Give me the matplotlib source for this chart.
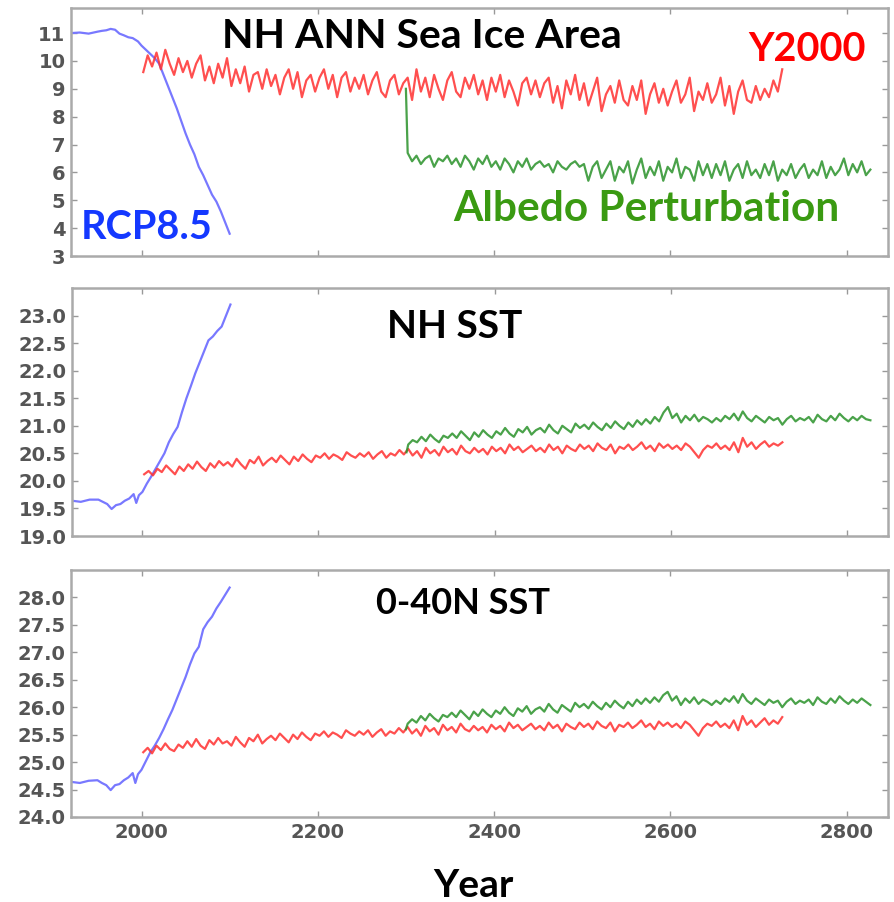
import numpy as np
import matplotlib
matplotlib.use("Agg")
import matplotlib.pyplot as plt

# ---- data ----
blue_years = [1920, 1930, 1940, 1950, 1955, 1960, 1965, 1970, 1975, 1980, 1985, 1990, 1993, 1996,
              2000, 2005, 2010, 2015, 2020, 2025, 2030, 2035, 2040, 2045, 2050, 2055, 2060, 2065,
              2070, 2075, 2080, 2085, 2090, 2095, 2100]
ice_rcp = [11.0, 11.02, 10.98, 11.05, 11.08, 11.1, 11.15, 11.12, 10.98, 10.92, 10.85, 10.82, 10.76, 10.7,
           10.55, 10.4, 10.25, 10.1, 9.9, 9.5, 9.1, 8.7, 8.3, 7.85, 7.4, 7.0, 6.65, 6.2,
           5.9, 5.55, 5.2, 4.95, 4.6, 4.2, 3.8]
nh_rcp = [19.64, 19.62, 19.66, 19.66, 19.62, 19.58, 19.49, 19.56, 19.58, 19.64, 19.68, 19.76, 19.6, 19.74,
          19.8, 19.95, 20.08, 20.22, 20.36, 20.5, 20.7, 20.85, 20.98, 21.25, 21.5, 21.72, 21.95, 22.15,
          22.35, 22.55, 22.62, 22.72, 22.8, 23.0, 23.2]
trop_rcp = [24.64, 24.62, 24.66, 24.67, 24.62, 24.58, 24.49, 24.58, 24.6, 24.67, 24.72, 24.8, 24.62, 24.78,
            24.86, 25.02, 25.18, 25.3, 25.44, 25.6, 25.78, 25.95, 26.15, 26.35, 26.55, 26.78, 26.98, 27.1,
            27.42, 27.55, 27.65, 27.8, 27.92, 28.05, 28.18]

red_years = np.arange(2002, 2728, 5)
ice_y2000 = [9.6, 10.2, 9.8, 10.3, 9.7, 10.4, 9.9, 9.5, 10.1, 9.6,
             10.0, 9.4, 9.9, 10.2, 9.3, 9.8, 9.2, 9.9, 9.4, 10.1,
             9.1, 9.7, 9.2, 9.8, 8.9, 9.5, 9.6, 9.0, 9.7, 9.1,
             9.5, 8.8, 9.4, 9.7, 9.0, 9.6, 8.7, 9.3, 9.5, 8.9,
             9.4, 9.7, 9.0, 9.5, 8.7, 9.4, 9.6, 8.9, 9.4, 9.0,
             9.5, 8.8, 9.3, 9.6, 8.9, 8.7, 9.3, 9.5, 8.8, 9.2,
             9.4, 8.6, 9.7, 8.9, 9.4, 8.7, 9.5, 9.0, 8.6, 9.3,
             9.6, 8.9, 8.7, 9.4, 9.0, 9.5, 8.8, 9.3, 8.6, 9.4,
             8.9, 9.5, 8.7, 9.3, 8.9, 8.4, 9.2, 9.4, 8.8, 9.3,
             8.7, 9.2, 9.4, 8.5, 9.1, 8.3, 9.3, 8.8, 9.5, 8.6,
             9.2, 8.4, 8.9, 9.4, 8.2, 8.8, 9.1, 8.5, 9.3, 8.6,
             8.4, 9.1, 8.6, 9.3, 8.1, 8.8, 9.2, 8.5, 9.0, 8.4,
             8.9, 9.3, 8.5, 8.8, 9.4, 8.2, 8.9, 8.6, 9.2, 8.5,
             8.8, 9.4, 8.4, 9.1, 8.1, 8.9, 9.3, 8.6, 8.5, 9.1,
             8.6, 9.0, 8.7, 9.3, 8.9, 9.7]
nh_y2000 = [20.12, 20.18, 20.10, 20.22, 20.16, 20.28, 20.20, 20.12, 20.26, 20.18,
            20.30, 20.22, 20.35, 20.25, 20.18, 20.32, 20.24, 20.36, 20.28, 20.34,
            20.26, 20.40, 20.30, 20.22, 20.38, 20.32, 20.44, 20.28, 20.36, 20.42,
            20.34, 20.46, 20.38, 20.30, 20.44, 20.36, 20.48, 20.40, 20.34, 20.46,
            20.42, 20.50, 20.40, 20.48, 20.44, 20.38, 20.52, 20.46, 20.42, 20.50,
            20.44, 20.52, 20.40, 20.48, 20.54, 20.42, 20.50, 20.46, 20.56, 20.48,
            20.58, 20.46, 20.54, 20.42, 20.60, 20.50, 20.56, 20.46, 20.62, 20.52,
            20.58, 20.48, 20.64, 20.54, 20.50, 20.60, 20.52, 20.58, 20.48, 20.62,
            20.54, 20.60, 20.50, 20.66, 20.56, 20.62, 20.52, 20.58, 20.64, 20.54,
            20.60, 20.52, 20.66, 20.56, 20.62, 20.50, 20.64, 20.58, 20.54, 20.66,
            20.58, 20.64, 20.54, 20.68, 20.60, 20.56, 20.66, 20.50, 20.62, 20.58,
            20.66, 20.56, 20.62, 20.70, 20.58, 20.64, 20.54, 20.68, 20.60, 20.66,
            20.58, 20.64, 20.56, 20.68, 20.62, 20.52, 20.42, 20.56, 20.64, 20.60,
            20.68, 20.58, 20.64, 20.56, 20.70, 20.52, 20.78, 20.62, 20.70, 20.58,
            20.66, 20.72, 20.62, 20.68, 20.64, 20.70]
trop_y2000 = [25.18, 25.26, 25.16, 25.30, 25.22, 25.34, 25.24, 25.20, 25.32, 25.26,
              25.38, 25.28, 25.42, 25.30, 25.24, 25.40, 25.32, 25.44, 25.34, 25.38,
              25.30, 25.46, 25.36, 25.28, 25.44, 25.38, 25.50, 25.34, 25.42, 25.48,
              25.40, 25.52, 25.44, 25.36, 25.50, 25.42, 25.54, 25.46, 25.40, 25.52,
              25.48, 25.56, 25.46, 25.54, 25.50, 25.44, 25.58, 25.52, 25.48, 25.56,
              25.50, 25.58, 25.46, 25.54, 25.60, 25.48, 25.56, 25.52, 25.62, 25.54,
              25.64, 25.52, 25.60, 25.48, 25.66, 25.56, 25.62, 25.50, 25.68, 25.58,
              25.64, 25.54, 25.70, 25.60, 25.56, 25.66, 25.58, 25.64, 25.54, 25.68,
              25.60, 25.66, 25.56, 25.72, 25.62, 25.68, 25.58, 25.64, 25.70, 25.60,
              25.66, 25.58, 25.72, 25.62, 25.68, 25.56, 25.70, 25.64, 25.60, 25.72,
              25.64, 25.70, 25.60, 25.74, 25.66, 25.62, 25.72, 25.56, 25.68, 25.64,
              25.72, 25.62, 25.68, 25.76, 25.64, 25.70, 25.60, 25.74, 25.66, 25.72,
              25.64, 25.70, 25.62, 25.74, 25.68, 25.58, 25.48, 25.62, 25.70, 25.66,
              25.74, 25.64, 25.70, 25.62, 25.76, 25.58, 25.84, 25.68, 25.76, 25.64,
              25.72, 25.80, 25.68, 25.76, 25.70, 25.82]

green_years = np.concatenate([[2300], np.arange(2302, 2828, 5)])
ice_albedo = [9.0,
              6.7, 6.4, 6.6, 6.3, 6.5, 6.6, 6.2, 6.5, 6.4, 6.6,
              6.3, 6.5, 6.2, 6.6, 6.4, 6.1, 6.5, 6.3, 6.6, 6.2,
              6.4, 6.1, 6.5, 6.3, 6.0, 6.4, 6.2, 6.5, 6.1, 6.3,
              6.4, 6.2, 6.3, 6.0, 6.4, 6.2, 6.1, 6.3, 6.4, 6.2,
              6.3, 5.7, 6.2, 6.4, 5.8, 6.1, 6.4, 5.7, 6.2, 6.0,
              6.4, 5.6, 6.1, 6.5, 5.8, 6.2, 5.9, 6.4, 5.7, 6.2,
              6.0, 6.5, 5.8, 6.2, 6.1, 5.7, 6.4, 5.9, 6.3, 5.8,
              6.3, 5.9, 6.4, 5.7, 6.1, 6.3, 5.8, 6.4, 5.9, 6.1,
              5.8, 6.3, 5.9, 6.4, 5.7, 6.1, 5.9, 6.3, 5.8, 6.1,
              6.3, 5.8, 6.1, 5.9, 6.4, 5.8, 6.2, 5.9, 6.1, 6.5,
              5.9, 6.3, 6.0, 6.4, 5.9, 6.1]
nh_albedo = [20.52,
             20.66, 20.74, 20.70, 20.80, 20.72, 20.84, 20.76, 20.70, 20.82, 20.78,
             20.86, 20.78, 20.90, 20.82, 20.74, 20.88, 20.80, 20.92, 20.84, 20.78,
             20.90, 20.84, 20.96, 20.86, 20.80, 20.94, 20.88, 20.98, 20.84, 20.92,
             20.96, 20.88, 21.02, 20.92, 20.86, 21.00, 20.94, 20.88, 21.04, 20.96,
             21.02, 20.94, 21.06, 20.98, 20.92, 21.04, 20.96, 21.08, 21.00, 20.94,
             21.06, 20.98, 21.10, 21.02, 21.12, 21.04, 21.16, 21.08, 21.24, 21.34,
             21.14, 21.22, 21.06, 21.18, 21.10, 21.20, 21.08, 21.16, 21.12, 21.06,
             21.14, 21.08, 21.18, 21.12, 21.22, 21.10, 21.26, 21.14, 21.08, 21.18,
             21.12, 21.06, 21.16, 21.10, 21.14, 21.02, 21.12, 21.18, 21.08, 21.14,
             21.10, 21.16, 21.06, 21.20, 21.12, 21.08, 21.18, 21.10, 21.22, 21.14,
             21.08, 21.16, 21.10, 21.18, 21.12, 21.10]
trop_albedo = [25.60,
               25.70, 25.78, 25.72, 25.84, 25.76, 25.88, 25.80, 25.74, 25.86, 25.82,
               25.90, 25.82, 25.94, 25.86, 25.78, 25.92, 25.84, 25.96, 25.88, 25.82,
               25.94, 25.88, 26.00, 25.90, 25.84, 25.98, 25.92, 26.02, 25.88, 25.96,
               26.00, 25.92, 26.06, 25.96, 25.90, 26.04, 25.98, 25.92, 26.08, 26.00,
               26.06, 25.98, 26.10, 26.02, 25.96, 26.08, 26.00, 26.12, 26.04, 25.98,
               26.10, 26.02, 26.14, 26.06, 26.16, 26.08, 26.18, 26.10, 26.22, 26.28,
               26.12, 26.20, 26.04, 26.16, 26.08, 26.18, 26.06, 26.14, 26.10, 26.04,
               26.12, 26.06, 26.16, 26.10, 26.20, 26.08, 26.24, 26.12, 26.06, 26.16,
               26.10, 26.04, 26.14, 26.08, 26.12, 26.00, 26.10, 26.16, 26.06, 26.12,
               26.08, 26.14, 26.04, 26.18, 26.10, 26.06, 26.16, 26.08, 26.20, 26.12,
               26.06, 26.14, 26.08, 26.16, 26.10, 26.04]

panels = [
    ("NH ANN Sea Ice Area", ice_rcp, ice_y2000, ice_albedo, (3, 11.9), np.arange(3, 12, 1), "%d"),
    ("NH SST", nh_rcp, nh_y2000, nh_albedo, (19, 23.5), np.arange(19, 23.01, 0.5), "%.1f"),
    ("0-40N SST", trop_rcp, trop_y2000, trop_albedo, (24, 28.5), np.arange(24, 28.01, 0.5), "%.1f"),
]

W, H = 894, 902
def fx(px):
    return px / W
def fy(py):
    return 1 - py / H

fig = plt.figure(figsize=(8.94, 9.02), dpi=100)

# axes boxes in pixels (left, top, right, bottom)
boxes = [(71, 8, 888, 256), (72, 288, 888, 536), (71, 570, 888, 817)]

axs = []
for (name, rcp, y2k, alb, ylim, yt, fmt), (l, t, r, b) in zip(panels, boxes):
    ax = fig.add_axes([fx(l), fy(b), fx(r) - fx(l), fy(t) - fy(b)])
    ax.plot(blue_years, rcp, color="#7878ff", lw=1.6)
    ax.plot(red_years, y2k, color="#ff3030", lw=1.6, alpha=0.85)
    ax.plot(green_years, alb, color="#2a922a", lw=1.6, alpha=0.85)
    ax.set_xlim(1920, 2847)
    ax.set_ylim(*ylim)
    ax.set_yticks(yt)
    ax.set_yticklabels([fmt % v for v in yt], fontweight="bold")
    ax.set_xticks([2000, 2200, 2400, 2600, 2800])
    ax.tick_params(direction="in", top=True, right=True, length=4, width=1,
                   color="#999999", labelsize=14, labelcolor="#555555", pad=4)
    for s in ax.spines.values():
        s.set_color("#aaaaaa")
        s.set_linewidth(1.8)
    axs.append(ax)

axs[0].set_xticklabels([])
axs[1].set_xticklabels([])
for lab in axs[2].get_xticklabels():
    lab.set_fontweight("bold")

tfont = dict(family="Lato", weight="bold", ha="center", va="baseline")
fig.text(fx(422), fy(48), "NH ANN Sea Ice Area", color="black", fontsize=29.5, **tfont)
fig.text(fx(807), fy(61), "Y2000", color="#ff0000", fontsize=28.5, **tfont)
fig.text(fx(147), fy(239), "RCP8.5", color="#1438ff", fontsize=28.5, **tfont)
fig.text(fx(646), fy(221), "Albedo Perturbation", color="#3a9a12", fontsize=30.5, **tfont)
fig.text(fx(455), fy(338), "NH SST", color="black", fontsize=28, **tfont)
fig.text(fx(463), fy(614), "0-40N SST", color="black", fontsize=26, **tfont)
fig.text(fx(473), fy(897), "Year", color="black", fontsize=28, **tfont)

fig.savefig("out.png", dpi=100)
